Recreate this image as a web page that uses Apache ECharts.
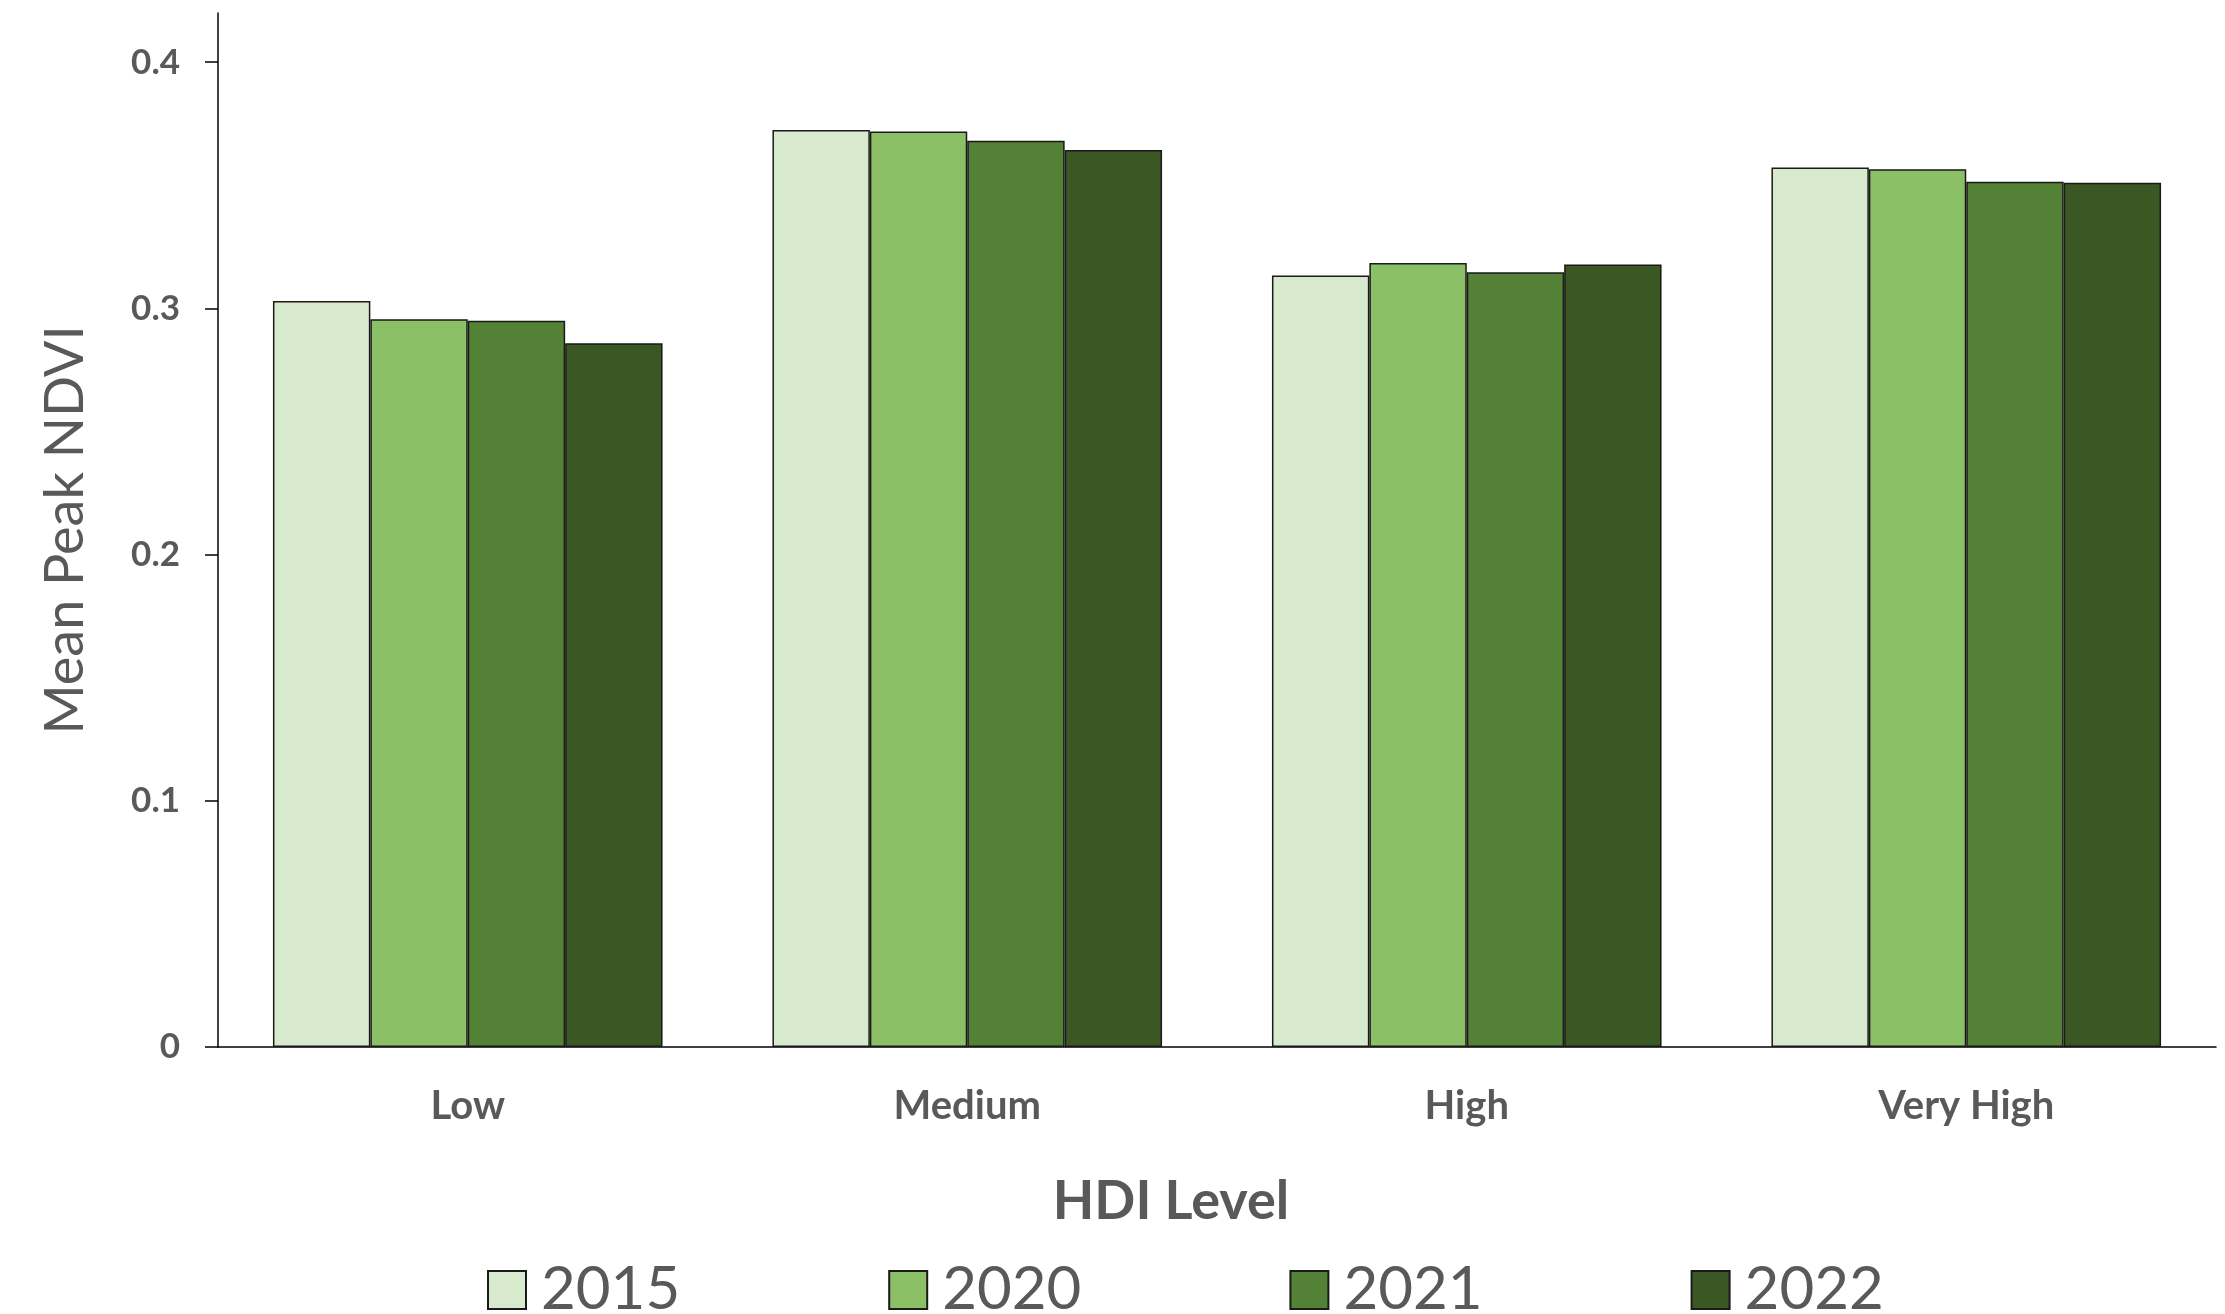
<!DOCTYPE html>
<html>
<head>
<meta charset="utf-8">
<title>Mean Peak NDVI by HDI Level</title>
<script src="https://cdn.jsdelivr.net/npm/echarts@6/dist/echarts.min.js"></script>
<style>
  html, body { margin: 0; padding: 0; background: #fff; }
  #chart { width: 2225px; height: 1314px; }
</style>
</head>
<body>
<div id="chart"></div>
<script>
// categories on the x axis
const hdiLevels = ["Low", "Medium", "High", "Very High"];

// one array per year (mean peak NDVI)
const years = ["2015", "2020", "2021", "2022"];
const ndvi2015 = [0.303, 0.3725, 0.3134, 0.3572];
const ndvi2020 = [0.2956, 0.3719, 0.3185, 0.3565];
const ndvi2021 = [0.295, 0.3681, 0.3147, 0.3515];
const ndvi2022 = [0.2859, 0.3644, 0.3178, 0.351];

const yTicks = [0, 0.1, 0.2, 0.3, 0.4];

const colors = ["#d8eacd", "#8bc067", "#538135", "#3a5724"];
const textColor = "#595959";

const chart = echarts.init(document.getElementById("chart"));

const seriesData = [ndvi2015, ndvi2020, ndvi2021, ndvi2022];
const seriesList = years.map((y, i) => ({
  name: y,
  type: "bar",
  data: seriesData[i],
  barGap: "0%",
  barCategoryGap: "22%",
  itemStyle: {
    color: colors[i],
    borderColor: "#1a1a1a",
    borderWidth: 1.5
  }
}));

chart.setOption({
  animation: false,
  textStyle: { fontFamily: "Lato" },
  title: {
    text: "HDI Level",
    left: 1166,
    top: 1170,
    textAlign: "center",
    textStyle: {
      fontFamily: "Lato",
      fontSize: 54,
      fontWeight: "bold",
      color: textColor
    }
  },
  legend: {
    data: years,
    icon: "rect",
    left: 482,
    top: 1255,
    itemWidth: 38,
    itemHeight: 38,
    itemGap: 208,
    textStyle: {
      fontFamily: "Lato",
      fontSize: 60,
      color: textColor,
      padding: [0, 0, 0, 10]
    }
  },
  grid: {
    left: 218,
    right: 9,
    top: 13,
    bottom: 267
  },
  xAxis: {
    type: "category",
    data: hdiLevels,
    axisLine: { lineStyle: { color: "#000", width: 1.5 } },
    axisTick: { show: false },
    axisLabel: {
      margin: 39,
      fontFamily: "Lato",
      fontSize: 40,
      fontWeight: "bold",
      color: textColor
    }
  },
  yAxis: {
    type: "value",
    min: 0,
    max: 0.42,
    interval: 0.1,
    name: "Mean Peak NDVI",
    nameLocation: "middle",
    nameGap: 125,
    nameTextStyle: {
      fontFamily: "Lato",
      fontSize: 54,
      color: textColor
    },
    splitLine: { show: false },
    axisLine: { show: true, lineStyle: { color: "#000", width: 1.5 } },
    axisTick: {
      show: true,
      length: 13,
      customValues: yTicks,
      lineStyle: { color: "#000", width: 1.5 }
    },
    axisLabel: {
      margin: 38,
      customValues: yTicks,
      fontFamily: "Lato",
      fontSize: 35,
      fontWeight: "bold",
      color: textColor,
      formatter: v => (v === 0 ? "0" : v.toFixed(1))
    }
  },
  series: seriesList
});
</script>
</body>
</html>
